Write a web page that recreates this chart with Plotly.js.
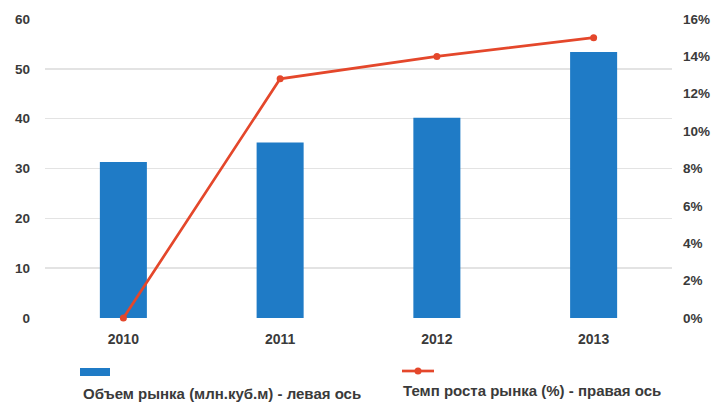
<!DOCTYPE html>
<html>
<head>
<meta charset="utf-8">
<script src="https://cdn.plot.ly/plotly-3.0.1.min.js"></script>
<style>html,body{margin:0;padding:0;background:#fff;}#chart{width:716px;height:403px;}</style>
</head>
<body>
<div id="chart"></div>
<script>
const years = ['2010', '2011', '2012', '2013'];
const volume = [31.3, 35.2, 40.2, 53.4];          // млн.куб.м, left axis
const growth = [0, 0.128, 0.140, 0.150];           // right axis, fraction
const volumeName = 'Объем рынка (млн.куб.м) - левая ось';
const growthName = 'Темп роста рынка (%) - правая ось';
const leftTicks = [0, 10, 20, 30, 40, 50, 60];
const rightTicks = [0, 0.02, 0.04, 0.06, 0.08, 0.10, 0.12, 0.14, 0.16];

const FONT = '"Liberation Sans", Arial, sans-serif';
const TXT = '#3a3a3a';
const BLUE = '#1f7bc6';
const RED = '#e4472b';
const tf = (s) => ({family: FONT, size: s, color: TXT, weight: 'bold'});

const traces = [
  {type: 'bar', x: years, y: volume, name: volumeName, marker: {color: BLUE}, width: 0.3, yaxis: 'y'},
  {type: 'scatter', mode: 'lines+markers', x: years, y: growth, name: growthName, yaxis: 'y2', cliponaxis: false,
   line: {color: RED, width: 2.7}, marker: {color: RED, size: 7}}
];

const layout = {
  width: 716, height: 403,
  margin: {l: 45, r: 44, t: 19, b: 85},
  paper_bgcolor: '#fff', plot_bgcolor: '#fff',
  font: tf(13),
  showlegend: false,
  xaxis: {type: 'category', range: [-0.5, 3.5], showgrid: false, zeroline: false, showline: false,
          ticks: '', ticklabelstandoff: 11, tickfont: tf(14)},
  yaxis: {range: [0, 60], tickvals: leftTicks, showgrid: true, gridcolor: '#e3e3e3', gridwidth: 1.5,
          zeroline: false, showline: false, ticks: '', ticklabelstandoff: 14, tickfont: tf(13.5)},
  yaxis2: {range: [0, 0.16], tickvals: rightTicks, tickformat: '.0%', overlaying: 'y', side: 'right',
           showgrid: false, zeroline: false, showline: false, ticks: '', ticklabelstandoff: 10, tickfont: tf(13.5)},
  shapes: [
    {type: 'rect', xref: 'paper', yref: 'paper', x0: (80-45)/627, x1: (110-45)/627,
     y0: (403-85-376)/299, y1: (403-85-368)/299, fillcolor: BLUE, line: {width: 0}},
    {type: 'line', xref: 'paper', yref: 'paper', x0: (402-45)/627, x1: (434-45)/627,
     y0: (403-85-371)/299, y1: (403-85-371)/299, line: {color: RED, width: 2.7}},
    {type: 'circle', xref: 'paper', yref: 'paper', x0: (414.5-45)/627, x1: (421.5-45)/627,
     y0: (403-85-374.5)/299, y1: (403-85-367.5)/299, fillcolor: RED, line: {width: 0}}
  ],
  annotations: [
    {xref: 'paper', yref: 'paper', x: (81-45)/627, y: (403-85-393)/299, xanchor: 'left', yanchor: 'middle',
     text: volumeName, showarrow: false, font: tf(15)},
    {xref: 'paper', yref: 'paper', x: (401-45)/627, y: (403-85-390)/299, xanchor: 'left', yanchor: 'middle',
     text: growthName, showarrow: false, font: tf(15)}
  ]
};

Plotly.newPlot('chart', traces, layout, {displayModeBar: false, staticPlot: true});
</script>
</body>
</html>
